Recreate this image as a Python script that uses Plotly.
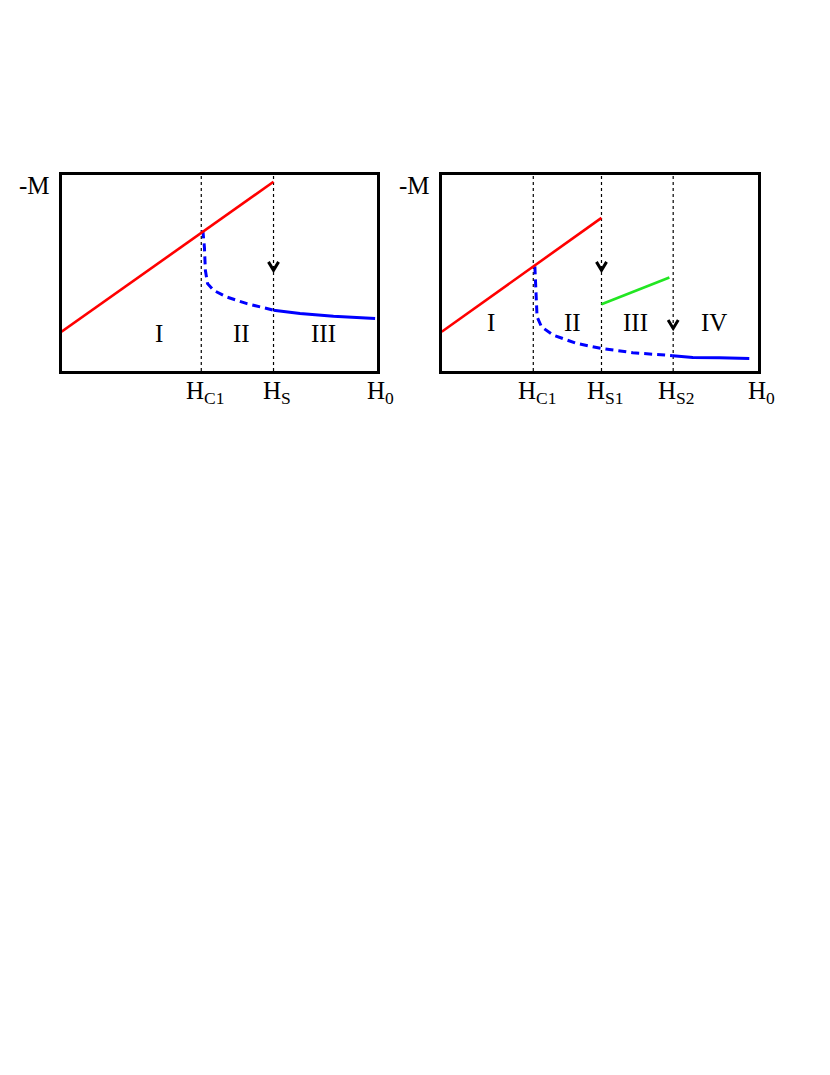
"""Schematic -M vs H0 magnetisation curves, two panels, drawn with Plotly."""

import plotly.graph_objects as go
from plotly.subplots import make_subplots

# Positions are in fractions of each panel's width / height (schematic axes).

# ---- left panel ----
L_VLINES = [0.443, 0.672]
L_VLABELS = ["H<sub>C1</sub>", "H<sub>S</sub>"]
L_RED_X = [0.0, 0.672]
L_RED_Y = [0.20, 0.964]
L_BLUE_DASH_X = [0.448, 0.453, 0.456, 0.463, 0.482, 0.524, 0.588, 0.672]
L_BLUE_DASH_Y = [0.716, 0.631, 0.513, 0.445, 0.411, 0.377, 0.343, 0.310]
L_BLUE_SOLID_X = [0.672, 0.756, 0.862, 0.994]
L_BLUE_SOLID_Y = [0.310, 0.293, 0.279, 0.267]
L_ARROW_X = [0.672]
L_ARROW_Y = [0.513]
L_REGIONS = ["I", "II", "III"]
L_REGION_X = [0.31, 0.57, 0.832]
L_REGION_Y = 0.193

# ---- right panel ----
R_VLINES = [0.29, 0.506, 0.733]
R_VLABELS = ["H<sub>C1</sub>", "H<sub>S1</sub>", "H<sub>S2</sub>"]
R_RED_X = [0.0, 0.506]
R_RED_Y = [0.20, 0.78]
R_GREEN_X = [0.506, 0.721]
R_GREEN_Y = [0.34, 0.476]
R_BLUE_DASH_X = [0.295, 0.298, 0.302, 0.316, 0.353, 0.426, 0.505, 0.605, 0.732]
R_BLUE_DASH_Y = [0.533, 0.394, 0.276, 0.225, 0.183, 0.141, 0.115, 0.093, 0.078]
R_BLUE_SOLID_X = [0.732, 0.795, 0.879, 0.974]
R_BLUE_SOLID_Y = [0.078, 0.069, 0.068, 0.064]
R_ARROW_X = [0.506, 0.733]
R_ARROW_Y = [0.513, 0.217]
R_REGIONS = ["I", "II", "III", "IV"]
R_REGION_X = [0.156, 0.415, 0.614, 0.863]
R_REGION_Y = 0.249

FONT = "Liberation Serif"
RED = "#ff0000"
BLUE = "#0000ff"
GREEN = "#22e622"

# the page body adds an 8px margin, so box edges are shifted back by 8px
W, H = 830, 1075
OFF = 8


def line(x, y, color, width=2.6, dash="solid"):
    return go.Scatter(
        x=x, y=y, mode="lines", showlegend=False, hoverinfo="skip",
        line=dict(color=color, width=width, dash=dash),
    )


def chevrons(xs, ys, dx=0.016, dy=0.043):
    """Open 'v' arrowheads with tips at (xs, ys)."""
    cx, cy = [], []
    for x, y in zip(xs, ys):
        cx += [x - dx, x, x + dx, None]
        cy += [y + dy, y, y + dy, None]
    return line(cx, cy, "black", width=3)


def vlines(xs):
    vx, vy = [], []
    for x in xs:
        vx += [x, x, None]
        vy += [0, 1, None]
    return line(vx, vy, "black", width=1.2, dash="dot")


fig = make_subplots(rows=1, cols=2)

panels = [
    dict(vl=L_VLINES, red=(L_RED_X, L_RED_Y), green=None,
         dash=(L_BLUE_DASH_X, L_BLUE_DASH_Y), solid=(L_BLUE_SOLID_X, L_BLUE_SOLID_Y),
         arrows=(L_ARROW_X, L_ARROW_Y)),
    dict(vl=R_VLINES, red=(R_RED_X, R_RED_Y), green=(R_GREEN_X, R_GREEN_Y),
         dash=(R_BLUE_DASH_X, R_BLUE_DASH_Y), solid=(R_BLUE_SOLID_X, R_BLUE_SOLID_Y),
         arrows=(R_ARROW_X, R_ARROW_Y)),
]

for col, p in enumerate(panels, start=1):
    fig.add_trace(vlines(p["vl"]), row=1, col=col)
    fig.add_trace(line(*p["dash"], BLUE, width=3, dash="8px,5px"), row=1, col=col)
    fig.add_trace(line(*p["solid"], BLUE, width=3), row=1, col=col)
    fig.add_trace(line(*p["red"], RED), row=1, col=col)
    if p["green"]:
        fig.add_trace(line(*p["green"], GREEN), row=1, col=col)
    fig.add_trace(chevrons(*p["arrows"]), row=1, col=col)

annotations = []


def label(text, x, y, ref, size=25, xanchor="center"):
    annotations.append(dict(
        text=text, x=x, y=y, xref=f"{ref} domain", yref=f"{ref.replace('x', 'y')} domain",
        showarrow=False, xanchor=xanchor, yanchor="middle",
        font=dict(family=FONT, size=size, color="black"),
    ))


for ref, regions, rx, ry, vls, vlabels in [
    ("x", L_REGIONS, L_REGION_X, L_REGION_Y, L_VLINES, L_VLABELS),
    ("x2", R_REGIONS, R_REGION_X, R_REGION_Y, R_VLINES, R_VLABELS),
]:
    for t, x in zip(regions, rx):
        label(t, x, ry, ref)
    for t, x in zip(vlabels + ["H<sub>0</sub>"], vls + [1.0]):
        label(t, x + 0.012, -0.11, ref)
    label("-M", -0.085, 0.944, ref)

fig.update_xaxes(range=[0, 1], showgrid=False, zeroline=False, showticklabels=False,
                 ticks="", showline=True, mirror=True, linecolor="black", linewidth=3)
fig.update_yaxes(range=[0, 1], showgrid=False, zeroline=False, showticklabels=False,
                 ticks="", showline=True, mirror=True, linecolor="black", linewidth=3)

top, bottom = 174.7 - OFF, 371 - OFF
fig.update_layout(
    width=W, height=H,
    margin=dict(l=0, r=0, t=0, b=0),
    paper_bgcolor="white", plot_bgcolor="white",
    xaxis=dict(domain=[(61.5 - OFF) / W, (377 - OFF) / W]),
    xaxis2=dict(domain=[(441.7 - OFF) / W, (757.5 - OFF) / W]),
    yaxis=dict(domain=[1 - bottom / H, 1 - top / H]),
    yaxis2=dict(domain=[1 - bottom / H, 1 - top / H]),
    annotations=annotations,
    showlegend=False,
)

fig.write_html("out.html")
